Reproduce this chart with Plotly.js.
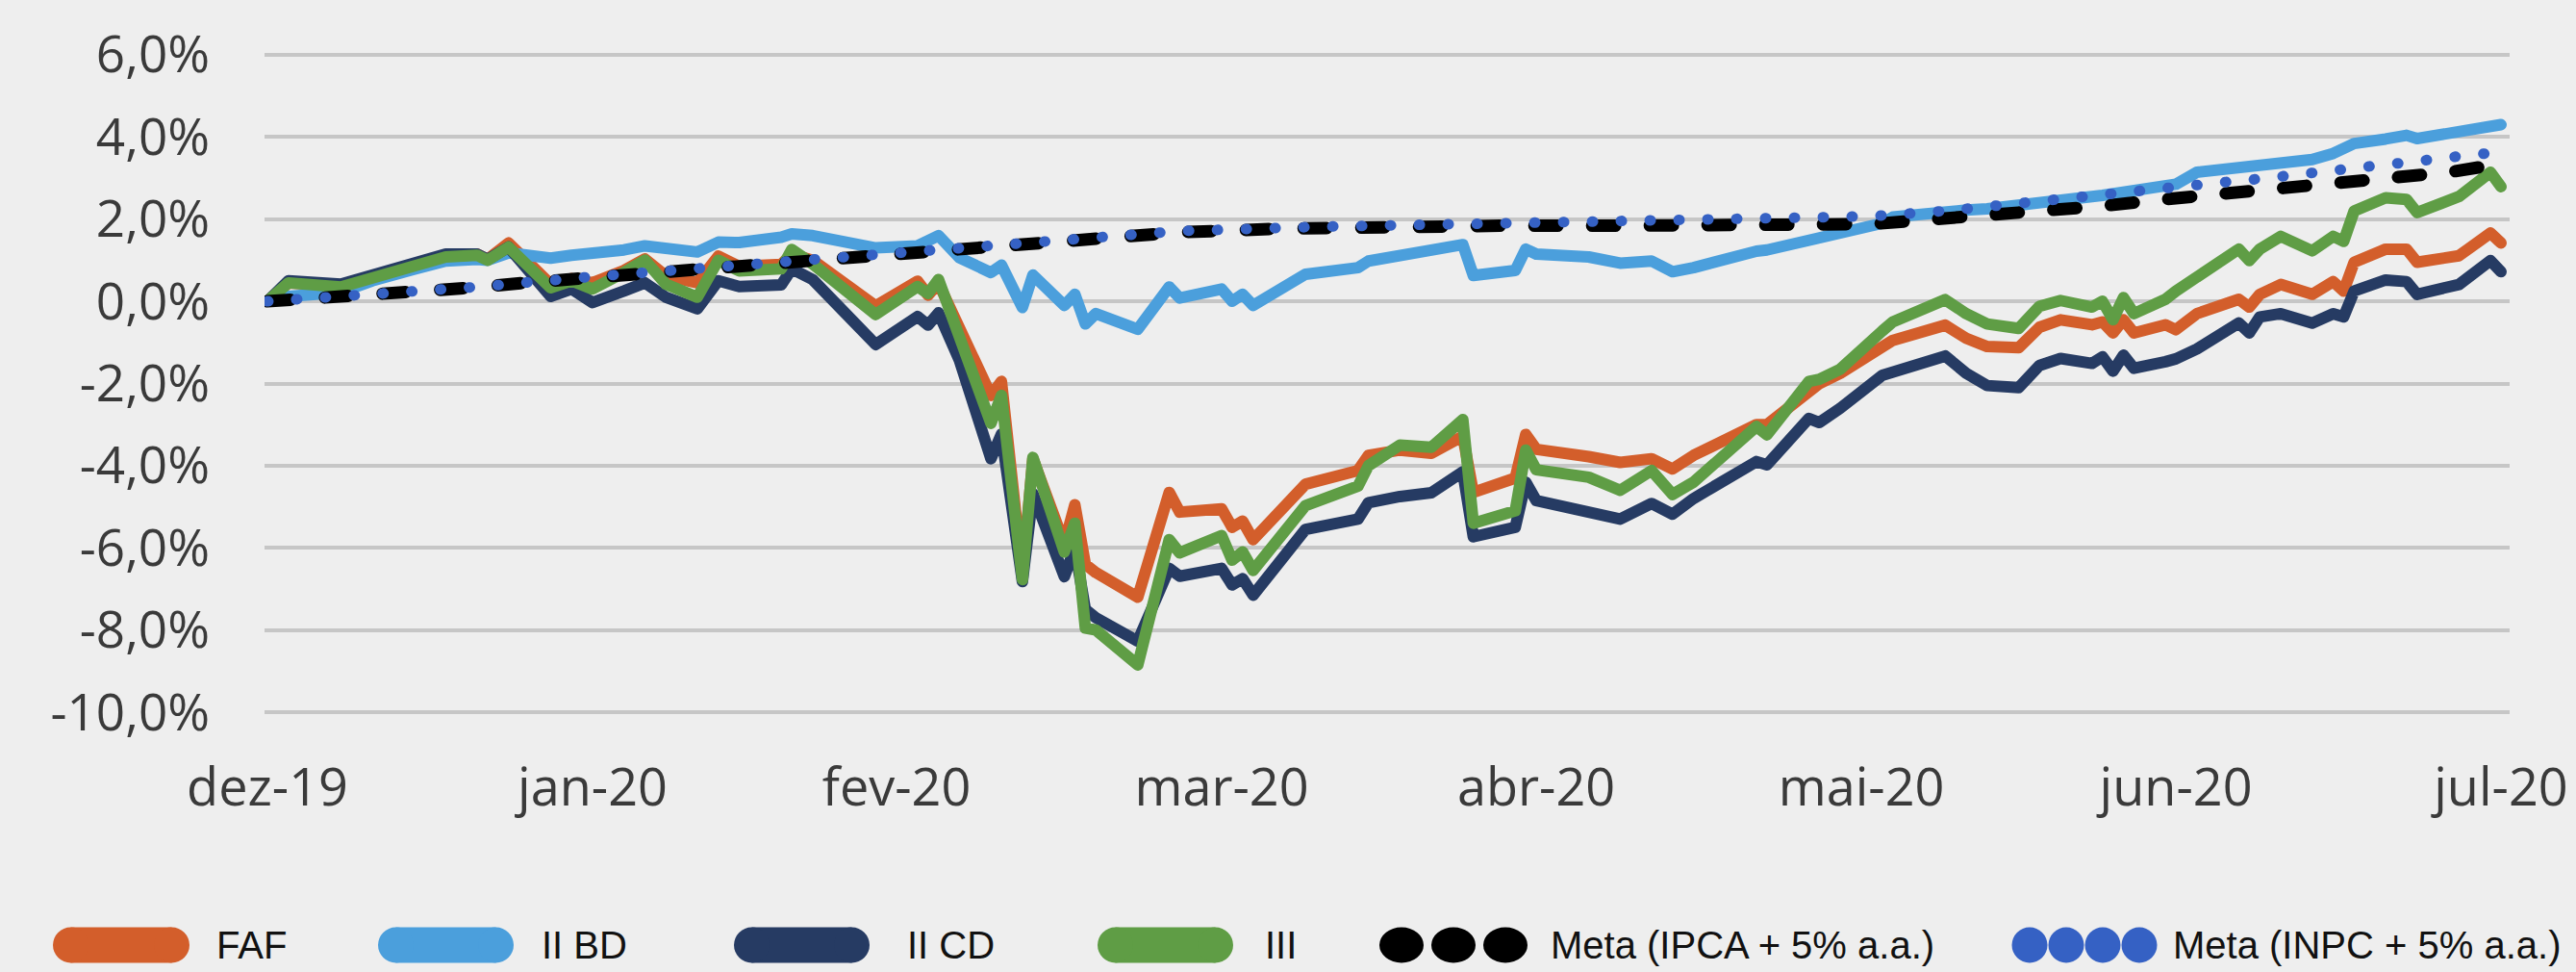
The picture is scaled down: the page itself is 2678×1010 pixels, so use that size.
<!DOCTYPE html>
<html>
<head>
<meta charset="utf-8">
<script src="https://cdn.plot.ly/plotly-3.0.1.min.js"></script>
<style>html,body{margin:0;padding:0;background:#eeeeee;}</style>
</head>
<body>
<div id="chart" style="width:2678px;height:1010px;"></div>
<script>
// ---------- DATA ----------
const dates = [
'2019-12-31','2020-01-02','2020-01-07','2020-01-10','2020-01-14','2020-01-17','2020-01-20','2020-01-21','2020-01-23','2020-01-27',
'2020-01-29','2020-01-31','2020-02-03','2020-02-05','2020-02-07','2020-02-10','2020-02-12','2020-02-14','2020-02-18','2020-02-19',
'2020-02-21','2020-02-27','2020-03-02','2020-03-03','2020-03-04','2020-03-06','2020-03-09','2020-03-10','2020-03-12','2020-03-13',
'2020-03-16','2020-03-17','2020-03-18','2020-03-19','2020-03-23','2020-03-26','2020-03-27','2020-03-31','2020-04-01','2020-04-02',
'2020-04-03','2020-04-08','2020-04-13','2020-04-14','2020-04-17','2020-04-20','2020-04-23','2020-04-24','2020-04-28','2020-04-29',
'2020-04-30','2020-05-05','2020-05-08','2020-05-11','2020-05-13','2020-05-15','2020-05-19','2020-05-21','2020-05-22','2020-05-26',
'2020-05-27','2020-05-29','2020-06-02','2020-06-03','2020-06-08','2020-06-10','2020-06-12','2020-06-15','2020-06-17','2020-06-19',
'2020-06-22','2020-06-23','2020-06-24','2020-06-25','2020-06-26','2020-06-29','2020-06-30','2020-07-02','2020-07-06','2020-07-07',
'2020-07-08','2020-07-10','2020-07-13','2020-07-15','2020-07-16','2020-07-17','2020-07-20','2020-07-22','2020-07-23','2020-07-27',
'2020-07-30','2020-07-31'];

const faf = [
0, 0.45, 0.38, 0.62, 0.88, 1.12, 1.15, 1.02, 1.42, 0.42,
0.55, 0.45, 0.75, 1.03, 0.62, 0.45, 1.10, 0.85, 0.90, 1.15,
1.00, -0.11, 0.49, 0.15, 0.44, -0.70, -2.29, -1.95, -6.65, -3.83,
-5.90, -4.95, -6.40, -6.60, -7.20, -4.65, -5.13, -5.05, -5.50, -5.35,
-5.80, -4.45, -4.12, -3.75, -3.62, -3.70, -3.28, -4.65, -4.30, -3.24,
-3.60, -3.78, -3.92, -3.83, -4.08, -3.75, -3.30, -3.00, -3.00, -2.15,
-2.00, -1.75, -1.10, -0.95, -0.58, -0.90, -1.10, -1.13, -0.63, -0.45,
-0.57, -0.50, -0.77, -0.45, -0.77, -0.57, -0.69, -0.30, 0.05, -0.14,
0.17, 0.41, 0.17, 0.48, 0.25, 0.95, 1.27, 1.27, 0.95, 1.11,
1.66, 1.42];

const iiBD = [
0, 0.12, 0.22, 0.50, 0.78, 0.98, 1.02, 1.00, 1.18, 1.05,
1.12, 1.15, 1.25, 1.35, 1.27, 1.20, 1.44, 1.43, 1.56, 1.64,
1.60, 1.30, 1.35, 1.45, 1.60, 1.06, 0.70, 0.88, -0.15, 0.64,
-0.10, 0.17, -0.55, -0.30, -0.68, 0.35, 0.08, 0.30, 0.00, 0.17,
-0.10, 0.66, 0.82, 0.98, 1.12, 1.20, 1.38, 0.63, 0.75, 1.27,
1.15, 1.08, 0.93, 0.98, 0.72, 0.82, 1.12, 1.22, 1.25, 1.50,
1.55, 1.65, 1.90, 2.05, 2.22, 2.22, 2.25, 2.32, 2.42, 2.45,
2.55, 2.58, 2.62, 2.66, 2.70, 2.79, 2.85, 3.14, 3.25, 3.28,
3.32, 3.40, 3.45, 3.60, 3.70, 3.84, 3.95, 4.04, 3.96, 4.12,
4.25, 4.30];

const iiCD = [
0, 0.50, 0.42, 0.66, 0.93, 1.15, 1.15, 1.02, 1.32, 0.12,
0.30, -0.03, 0.25, 0.45, 0.10, -0.18, 0.50, 0.36, 0.40, 0.79,
0.53, -1.05, -0.37, -0.58, -0.28, -1.44, -3.83, -3.23, -6.82, -4.68,
-6.70, -6.00, -7.50, -7.70, -8.27, -6.50, -6.69, -6.50, -6.90, -6.75,
-7.15, -5.55, -5.30, -4.90, -4.75, -4.66, -4.15, -5.73, -5.50, -4.40,
-4.85, -5.15, -5.30, -4.92, -5.18, -4.80, -4.25, -3.90, -3.98, -2.85,
-2.95, -2.60, -1.80, -1.72, -1.33, -1.75, -2.05, -2.10, -1.56, -1.39,
-1.51, -1.35, -1.70, -1.31, -1.63, -1.47, -1.40, -1.16, -0.53, -0.77,
-0.38, -0.30, -0.53, -0.30, -0.38, 0.25, 0.52, 0.48, 0.17, 0.41,
0.99, 0.72];

const iii = [
0, 0.45, 0.35, 0.58, 0.85, 1.08, 1.12, 1.00, 1.32, 0.33,
0.50, 0.30, 0.70, 1.00, 0.42, 0.10, 1.00, 0.74, 0.79, 1.26,
0.91, -0.32, 0.36, 0.19, 0.53, -0.92, -2.97, -2.29, -6.77, -3.80,
-6.10, -5.40, -7.95, -8.00, -8.85, -5.80, -6.12, -5.70, -6.30, -6.10,
-6.55, -4.97, -4.50, -4.00, -3.50, -3.55, -2.88, -5.40, -5.10, -3.62,
-4.10, -4.28, -4.60, -4.12, -4.70, -4.40, -3.50, -3.05, -3.25, -1.95,
-1.90, -1.65, -0.72, -0.50, 0.04, -0.30, -0.55, -0.66, -0.12, 0.02,
-0.14, 0.00, -0.45, 0.09, -0.30, 0.05, 0.25, 0.60, 1.27, 0.99,
1.27, 1.58, 1.23, 1.58, 1.46, 2.20, 2.52, 2.48, 2.16, 2.55,
3.14, 2.79];

const ipcaDates = ['2019-12-31','2020-01-09','2020-01-15','2020-01-20','2020-01-25','2020-01-31','2020-02-05','2020-02-11','2020-02-17','2020-02-25',
'2020-03-04','2020-03-12','2020-03-20','2020-03-27','2020-04-06','2020-04-16','2020-04-27','2020-05-08','2020-05-20','2020-06-01',
'2020-06-06','2020-06-12','2020-06-19','2020-06-23','2020-06-28','2020-07-03','2020-07-08','2020-07-14','2020-07-21','2020-07-26','2020-07-31'];
const metaIPCA = [0, 0.13, 0.27, 0.34, 0.46, 0.58, 0.68, 0.80, 0.96, 1.13,
1.28, 1.45, 1.57, 1.68, 1.77, 1.82, 1.84, 1.84, 1.86, 1.88,
1.98, 2.08, 2.24, 2.32, 2.46, 2.58, 2.68, 2.85, 3.01, 3.14, 3.35];

const inpcDates = ['2019-12-31','2020-01-09','2020-01-20','2020-01-31','2020-02-11','2020-02-25','2020-03-12','2020-03-27','2020-04-10','2020-04-27',
'2020-05-10','2020-05-21','2020-06-01','2020-06-08','2020-06-15','2020-06-21','2020-06-24','2020-06-27','2020-06-30','2020-07-02',
'2020-07-05','2020-07-08','2020-07-11','2020-07-13','2020-07-16','2020-07-19','2020-07-22','2020-07-25','2020-07-28','2020-07-31'];
const metaINPC = [0, 0.14, 0.35, 0.60, 0.82, 1.15, 1.47, 1.71, 1.82, 1.89,
1.93, 1.99, 2.07, 2.20, 2.40, 2.52, 2.64, 2.71, 2.79, 2.87,
2.91, 2.98, 3.08, 3.14, 3.22, 3.30, 3.38, 3.50, 3.56, 3.63];

const tickDates = ['2019-12-31','2020-01-31','2020-02-29','2020-03-31','2020-04-30','2020-05-31','2020-06-30','2020-07-31'];
const tickLabels = ['dez-19','jan-20','fev-20','mar-20','abr-20','mai-20','jun-20','jul-20'];
const yTicks = [6, 4, 2, 0, -2, -4, -6, -8, -10];
const yTickLabels = ['6,0%','4,0%','2,0%','0,0%','-2,0%','-4,0%','-6,0%','-8,0%','-10,0%'];
const seriesNames = ['FAF', 'II BD', 'II CD', 'III', 'Meta (IPCA + 5% a.a.)', 'Meta (INPC + 5% a.a.)'];

// ---------- STYLE ----------
const colors = ['#d35e2b', '#4b9fdc', '#263b63', '#5f9d45', '#000000', '#3561c4'];
const LW = 12;

const traces = [
  {x: dates, y: faf, name: seriesNames[0], mode: 'lines', line: {color: colors[0], width: LW}},
  {x: dates, y: iiBD, name: seriesNames[1], mode: 'lines', line: {color: colors[1], width: LW}},
  {x: dates, y: iiCD, name: seriesNames[2], mode: 'lines', line: {color: colors[2], width: LW}},
  {x: dates, y: iii, name: seriesNames[3], mode: 'lines', line: {color: colors[3], width: LW}},
  {x: ipcaDates, y: metaIPCA, name: seriesNames[4], mode: 'lines', line: {color: colors[4], width: 13, dash: '24px,36px'}},
  {x: inpcDates, y: metaINPC, name: seriesNames[5], mode: 'lines', line: {color: colors[5], width: 11, dash: '1px,29px'}}
];

const W = 2678, H = 1010, ML = 275, MR = 69, MT = 55, MB = 268;
const PW = W - ML - MR, PH = H - MT - MB;
const px2x = p => (p - ML) / PW;
const py2y = p => (H - MB - p) / PH;

const legendY = 982, barH = 37;
const legendLayout = [
  {kind: 'bar', x0: 55, x1: 197, tx: 224, tw: 77},
  {kind: 'bar', x0: 393, x1: 534, tx: 562, tw: 98},
  {kind: 'bar', x0: 763, x1: 904, tx: 942, tw: 100},
  {kind: 'bar', x0: 1141, x1: 1282, tx: 1314, tw: 45},
  {kind: 'dots', centers: [1457, 1511, 1565], dw: 46, tx: 1611, tw: 411},
  {kind: 'dots', centers: [2110, 2148, 2186, 2224], dw: 37, tx: 2258, tw: 410}
];

const shapes = [];
const annotations = [];
legendLayout.forEach((it, i) => {
  const c = colors[i];
  const yt = py2y(legendY - barH / 2), yb = py2y(legendY + barH / 2);
  if (it.kind === 'bar') {
    const r = barH / 2;
    shapes.push({type: 'rect', xref: 'paper', yref: 'paper', x0: px2x(it.x0 + r), x1: px2x(it.x1 - r), y0: yb, y1: yt, fillcolor: c, line: {width: 0}});
    shapes.push({type: 'circle', xref: 'paper', yref: 'paper', x0: px2x(it.x0), x1: px2x(it.x0 + 2 * r), y0: yb, y1: yt, fillcolor: c, line: {width: 0}});
    shapes.push({type: 'circle', xref: 'paper', yref: 'paper', x0: px2x(it.x1 - 2 * r), x1: px2x(it.x1), y0: yb, y1: yt, fillcolor: c, line: {width: 0}});
  } else {
    it.centers.forEach(cx => {
      shapes.push({type: 'circle', xref: 'paper', yref: 'paper', x0: px2x(cx - it.dw / 2), x1: px2x(cx + it.dw / 2), y0: yb, y1: yt, fillcolor: c, line: {width: 0}});
    });
  }
  annotations.push({
    text: seriesNames[i], xref: 'paper', yref: 'paper', x: px2x(it.tx), y: py2y(legendY),
    xanchor: 'left', yanchor: 'middle', showarrow: false, borderpad: 0,
    font: {family: '"Liberation Sans", Arial, sans-serif', size: 40, color: '#111111'}
  });
});

const layout = {
  width: W, height: H,
  margin: {l: ML, r: MR, t: MT, b: MB},
  paper_bgcolor: '#eeeeee',
  plot_bgcolor: 'rgba(0,0,0,0)',
  showlegend: false,
  xaxis: {
    type: 'date',
    range: ['2019-12-30 17:24', '2020-07-31 19:50'],
    tickmode: 'array', tickvals: tickDates, ticktext: tickLabels,
    showgrid: false, zeroline: false, showline: false, ticks: '',
    ticklabelstandoff: 40,
    tickfont: {family: '"Open Sans", sans-serif', size: 54, color: '#3a3a3a'}
  },
  yaxis: {
    range: [-10.045, 6.045],
    tickmode: 'array', tickvals: yTicks, ticktext: yTickLabels,
    showgrid: true, gridcolor: '#c6c6c6', gridwidth: 4,
    zeroline: false, showline: false, ticks: '',
    ticklabelstandoff: 56,
    tickfont: {family: '"Open Sans", sans-serif', size: 53, color: '#3a3a3a'}
  },
  shapes: shapes,
  annotations: annotations
};

Plotly.newPlot('chart', traces, layout, {displayModeBar: false, staticPlot: true}).then(gd => {
  gd.querySelectorAll('.scatterlayer path.js-line').forEach(p => {
    p.style.strokeLinecap = 'round';
    p.style.strokeLinejoin = 'round';
  });
  // fit legend labels to the narrow lettering of the original
  const texts = gd.querySelectorAll('g.annotation text.annotation-text');
  texts.forEach((t, i) => {
    const target = legendLayout[i] && legendLayout[i].tw;
    if (target && t.getComputedTextLength() > target) {
      t.setAttribute('textLength', target);
      t.setAttribute('lengthAdjust', 'spacingAndGlyphs');
    }
  });
});
</script>
</body>
</html>
